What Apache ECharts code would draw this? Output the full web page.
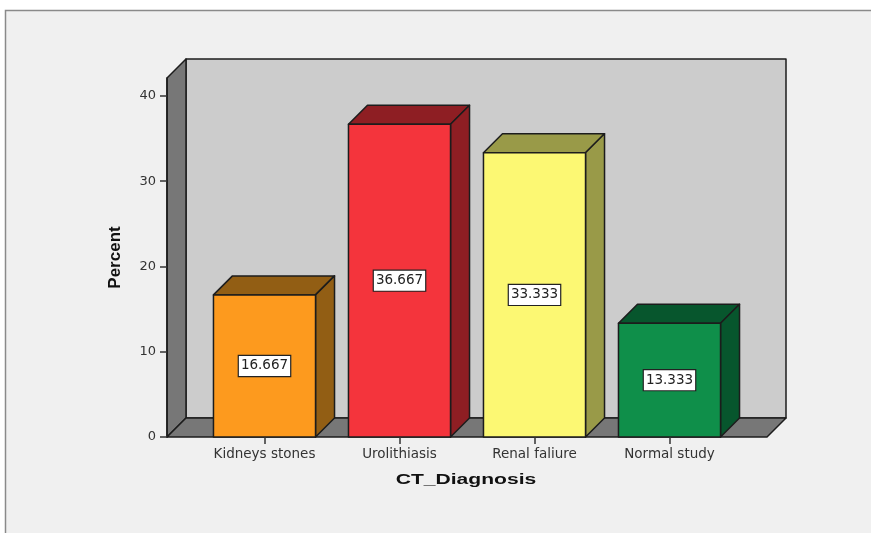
<!DOCTYPE html>
<html>
<head>
<meta charset="utf-8">
<style>
  html, body { margin: 0; padding: 0; background: #ffffff; }
  #chart { width: 871px; height: 533px; }
</style>
<script src="https://cdn.jsdelivr.net/npm/echarts@6/dist/echarts.min.js"></script>
</head>
<body>
<div id="chart"></div>
<script>
// Diagnosis categories and their share of patients
const categories = ['Kidneys stones', 'Urolithiasis', 'Renal faliure', 'Normal study'];
const percents = [16.667, 36.667, 33.333, 13.333];
const frontColors = ['#FD9A1E', '#F4343C', '#FCF873', '#0F8F4A'];
const sideColors = ['#925E14', '#8E1E23', '#999A48', '#07562D'];
const yTicks = [0, 10, 20, 30, 40];
const yMax = 42.1;
const xTitle = 'CT_Diagnosis';
const yTitle = 'Percent';

// Extrusion of the box and side margin of the floor beyond the bands
const DEPTH = 19;
const SIDE_PAD = 30;
const EDGE = '#1c1c1c';
const LABEL_FONT = '"DejaVu Sans", Verdana, sans-serif';
const TITLE_FONT = '"Liberation Sans", Arial, sans-serif';

function poly(points, fill) {
  return {
    type: 'polygon',
    shape: { points },
    style: { fill, stroke: EDGE, lineWidth: 1.5, lineJoin: 'round' }
  };
}

// Back wall, side wall and floor of the 3D box
function renderWalls(params, api) {
  const cs = params.coordSys;
  const l = cs.x - SIDE_PAD;
  const r = cs.x + cs.width + SIDE_PAD;
  const t = cs.y;
  const b = api.coord([0, 0])[1];
  const d = DEPTH;
  return {
    type: 'group',
    children: [
      poly([[l + d, t - d], [r + d, t - d], [r + d, b - d], [l + d, b - d]], '#CCCCCC'),
      poly([[l, t], [l + d, t - d], [l + d, b - d], [l, b]], '#777777'),
      poly([[l, b], [l + d, b - d], [r + d, b - d], [r, b]], '#777777')
    ]
  };
}

// One extruded bar with its value tag at mid height
function renderBar(params, api) {
  const i = api.value(0);
  const v = api.value(1);
  const top = api.coord([i, v]);
  const base = api.coord([i, 0]);
  const half = api.size([1, 0])[0] * 0.378;
  const l = top[0] - half;
  const r = top[0] + half;
  const d = DEPTH;
  const side = sideColors[params.dataIndex];
  return {
    type: 'group',
    children: [
      poly([[l, top[1]], [l + d, top[1] - d], [r + d, top[1] - d], [r, top[1]]], side),
      poly([[r, top[1]], [r + d, top[1] - d], [r + d, base[1] - d], [r, base[1]]], side),
      poly([[l, top[1]], [r, top[1]], [r, base[1]], [l, base[1]]], frontColors[params.dataIndex]),
      {
        type: 'text',
        x: top[0],
        y: (top[1] + base[1]) / 2,
        z2: 10,
        style: {
          text: v.toFixed(3),
          align: 'center',
          verticalAlign: 'middle',
          font: '13.5px ' + LABEL_FONT,
          fill: '#222222',
          backgroundColor: '#ffffff',
          borderColor: '#222222',
          borderWidth: 1.2,
          padding: [3, 2, 3, 2]
        }
      }
    ]
  };
}

const chart = echarts.init(document.getElementById('chart'), null, { renderer: 'canvas' });
chart.setOption({
  animation: false,
  backgroundColor: '#ffffff',
  graphic: [
    {
      type: 'rect',
      z: -10,
      shape: { x: 5.5, y: 10.5, width: 880, height: 540 },
      style: { fill: '#F0F0F0', stroke: '#8a8a8a', lineWidth: 1.5 }
    },
    {
      // The horizontal axis title is set wide
      type: 'text',
      z: 10,
      x: 466,
      y: 480,
      scaleX: 1.36,
      style: {
        text: xTitle,
        align: 'center',
        verticalAlign: 'middle',
        font: 'bold 15.5px ' + TITLE_FONT,
        fill: '#111111'
      }
    }
  ],
  grid: { left: 197, width: 540, top: 78, height: 359 },
  xAxis: {
    type: 'category',
    data: categories,
    z: 5,
    axisLine: { show: false },
    axisTick: { show: true, alignWithLabel: true, length: 7, lineStyle: { color: '#333333', width: 1.5 } },
    axisLabel: { margin: 10, color: '#333333', fontSize: 13.5, fontFamily: LABEL_FONT, interval: 0 }
  },
  yAxis: {
    type: 'value',
    min: 0,
    max: yMax,
    interval: 10,
    offset: SIDE_PAD,
    z: 5,
    splitLine: { show: false },
    axisLine: { show: true, lineStyle: { color: EDGE, width: 1.5 } },
    axisTick: { show: true, length: 7, customValues: yTicks, lineStyle: { color: '#333333', width: 1.5 } },
    axisLabel: { margin: 11, color: '#333333', fontSize: 13, fontFamily: LABEL_FONT, customValues: yTicks },
    name: yTitle,
    nameLocation: 'middle',
    nameGap: 43,
    nameTextStyle: { color: '#111111', fontSize: 17, fontWeight: 'bold', fontFamily: TITLE_FONT }
  },
  series: [
    { type: 'custom', name: 'walls', z: 1, silent: true, renderItem: renderWalls, data: [[0, 0]], encode: { x: 0, y: 1 } },
    { type: 'custom', name: 'Percent', z: 2, renderItem: renderBar, data: percents.map((p, i) => [i, p]), encode: { x: 0, y: 1 } }
  ]
});
</script>
</body>
</html>
